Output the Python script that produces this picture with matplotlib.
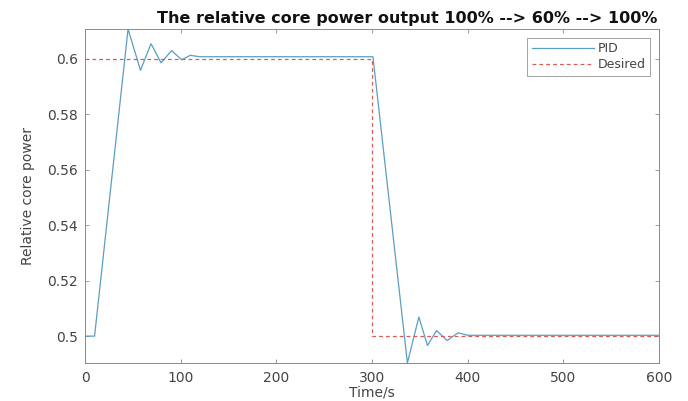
import matplotlib
matplotlib.use("Agg")
import matplotlib.pyplot as plt
from matplotlib.ticker import FuncFormatter

plt.rcParams['font.family'] = ['DejaVu Sans']

# PID response (key points)
pid_t = [0, 10, 45, 58, 69, 79.5, 90.5, 101, 110, 120, 300, 301, 337, 349, 358, 367.5, 378.5, 390, 400, 600]
pid_v = [0.5, 0.5, 0.6108, 0.5959, 0.6055, 0.5986, 0.603, 0.5997, 0.6013, 0.6008, 0.6008, 0.6008,
         0.4903, 0.5069, 0.4966, 0.502, 0.4984, 0.5012, 0.5003, 0.5003]

# Desired set point
des_t = [0, 300, 300, 600]
des_v = [0.6, 0.6, 0.5, 0.5]

x_ticks = [0, 100, 200, 300, 400, 500, 600]
y_ticks = [0.5, 0.52, 0.54, 0.56, 0.58, 0.6]

title = "The relative core power output 100% --> 60% --> 100%"

fig = plt.figure(figsize=(6.88, 4.01), dpi=100)
ax = fig.add_axes([85/688, 38/401, 574/688, 334/401])

ax.plot(pid_t, pid_v, color='#5a9ec4', lw=0.9, label='PID')
ax.plot(des_t, des_v, color='#dd5a55', lw=0.9, ls=(0, (3, 2.5)), label='Desired')

ax.set_xlim(0, 600)
ax.set_ylim(0.4903, 0.6108)
ax.set_xticks(x_ticks)
ax.set_yticks(y_ticks)
ax.yaxis.set_major_formatter(FuncFormatter(lambda v, p: f"{v:g}"))

for s in ax.spines.values():
    s.set_color('#8a8a8a')
    s.set_linewidth(0.7)
ax.tick_params(direction='in', length=3, width=0.6, color='#8a8a8a',
               labelsize=10, labelcolor='#444444', top=True, right=True)
ax.tick_params(axis='x', pad=6)
ax.tick_params(axis='y', pad=5)

ax.set_xlabel('Time/s', fontsize=10, color='#444444', labelpad=0)
ax.set_ylabel('Relative core power', fontsize=10, color='#444444', labelpad=9)

fig.text(407/688, 1 - 18/401, title, ha='center', va='center',
         fontsize=11.5, fontweight='bold', color='#111111')

leg = ax.legend(loc='upper right', fontsize=9, frameon=True, fancybox=False,
                edgecolor='#8a8a8a', handlelength=5.0, borderaxespad=0.7,
                labelspacing=0.25, borderpad=0.35, handletextpad=0.3)
leg.get_frame().set_linewidth(0.7)
for t in leg.get_texts():
    t.set_color('#444444')

fig.savefig('out.png', dpi=100)
